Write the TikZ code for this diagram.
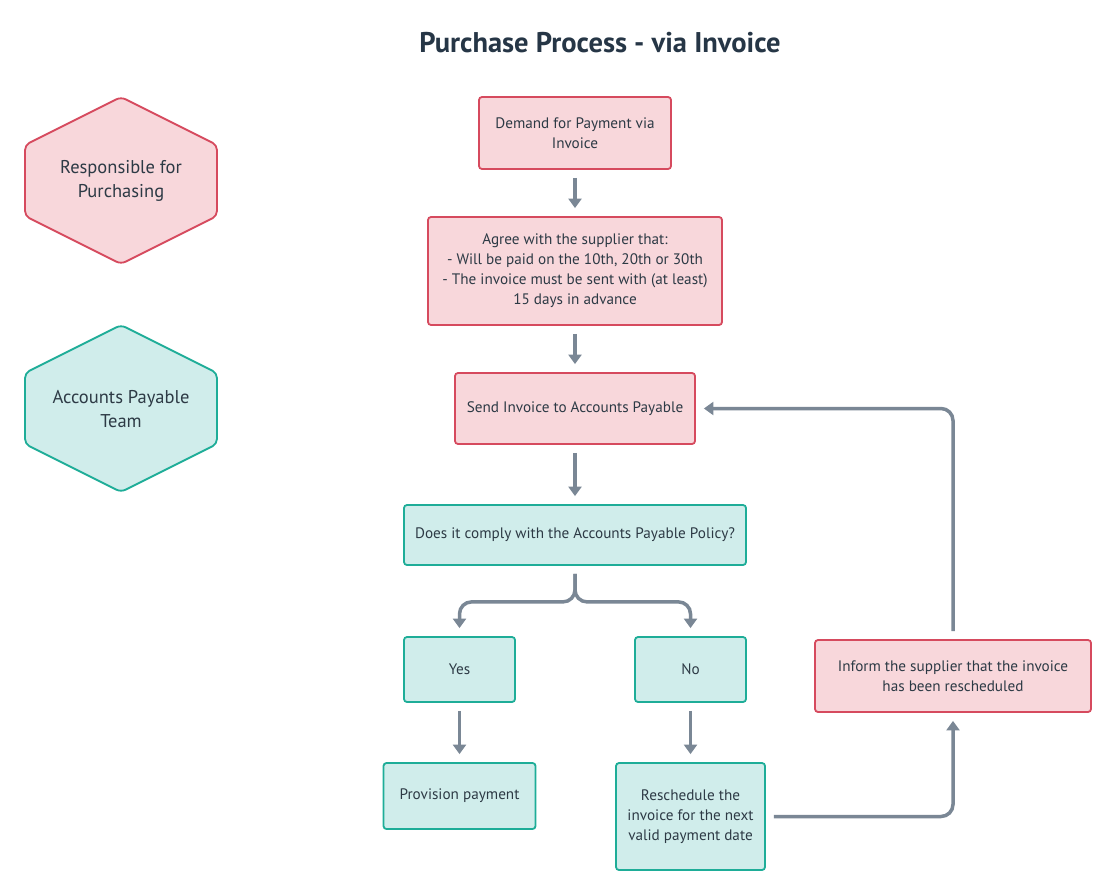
\documentclass[tikz,border=0pt]{standalone}
\usepackage{fontspec}
\setmainfont{PT Sans}
\usetikzlibrary{arrows.meta}
\definecolor{pinkfill}{HTML}{F8D7DB}
\definecolor{pinkline}{HTML}{D64A5E}
\definecolor{tealfill}{HTML}{D0EDEB}
\definecolor{tealline}{HTML}{1EAD98}
\definecolor{txt}{HTML}{2D3A45}
\definecolor{ttl}{HTML}{263646}
\definecolor{conn}{HTML}{7A8795}
\tikzset{
  boxbase/.style={draw, line width=1.8pt, rounded corners=3pt, inner sep=0pt, align=center,
    text=txt, font=\fontsize{15.2}{20}\selectfont},
  pinkbox/.style={boxbase, fill=pinkfill, draw=pinkline},
  tealbox/.style={boxbase, fill=tealfill, draw=tealline},
  hexpink/.style={draw=pinkline, fill=pinkfill, line width=1.8pt, rounded corners=5pt},
  hexteal/.style={draw=tealline, fill=tealfill, line width=1.8pt, rounded corners=5pt},
  hextext/.style={align=center, text=txt, font=\fontsize{18.5}{24}\selectfont},
  flow/.style={draw=conn, line width=3.5pt, -{Triangle[width=13pt,length=9.5pt]},
    shorten >=8pt, shorten <=8pt, rounded corners=12pt},
}
\begin{document}
\begin{tikzpicture}[x=1pt,y=-1pt]
\useasboundingbox (0,0) rectangle (1116,896);
\fill[white] (0,0) rectangle (1116,896);

\node[text=ttl, font=\fontsize{28.5}{32}\selectfont\bfseries] (title) at (600,43) {Purchase Process - via Invoice};

% hexagons
\draw[hexpink] (121,97) -- (217,145) -- (217,216) -- (121,264) -- (25,216) -- (25,145) -- cycle;
\node[hextext] (resp) at (121,181) {Responsible for\\Purchasing};
\draw[hexteal] (121,325) -- (217,373) -- (217,444) -- (121,492) -- (25,444) -- (25,373) -- cycle;
\node[hextext] (apt) at (121,409) {Accounts Payable\\Team};

% boxes
\node[pinkbox, minimum width=192pt, minimum height=72pt] (demand) at (575,133) {Demand for Payment via\\Invoice};
\node[pinkbox, minimum width=294pt, minimum height=108pt] (agree) at (575,271) {Agree with the supplier that:\\- Will be paid on the 10th, 20th or 30th\\- The invoice must be sent with (at least)\\15 days in advance};
\node[pinkbox, minimum width=240pt, minimum height=71pt] (send) at (575,408.5) {Send Invoice to Accounts Payable};
\node[tealbox, minimum width=342pt, minimum height=60pt] (comply) at (575,535) {Does it comply with the Accounts Payable Policy?};
\node[tealbox, minimum width=111pt, minimum height=65pt] (yes) at (459.5,669.5) {Yes};
\node[tealbox, minimum width=111pt, minimum height=65pt] (no) at (690.5,669.5) {No};
\node[tealbox, minimum width=152pt, minimum height=66pt] (prov) at (459.5,796) {Provision payment};
\node[tealbox, minimum width=149pt, minimum height=107pt] (resch) at (690.5,816.5) {Reschedule the\\invoice for the next\\valid payment date};
\node[pinkbox, minimum width=276pt, minimum height=72pt] (inform) at (953,676) {Inform the supplier that the invoice\\has been rescheduled};

% connectors
\draw[flow] (demand.south) -- (agree.north);
\draw[flow] (agree.south) -- (send.north);
\draw[flow] (send.south) -- (comply.north);
\draw[flow] (comply.south) -- ++(0,36) -| (yes.north);
\draw[flow] (comply.south) -- ++(0,36) -| (no.north);
\draw[flow] (yes.south) -- (prov.north);
\draw[flow] (no.south) -- (resch.north);
\draw[flow] (resch.east) -| (inform.south);
\draw[flow] (inform.north) |- (send.east);
\end{tikzpicture}
\end{document}
